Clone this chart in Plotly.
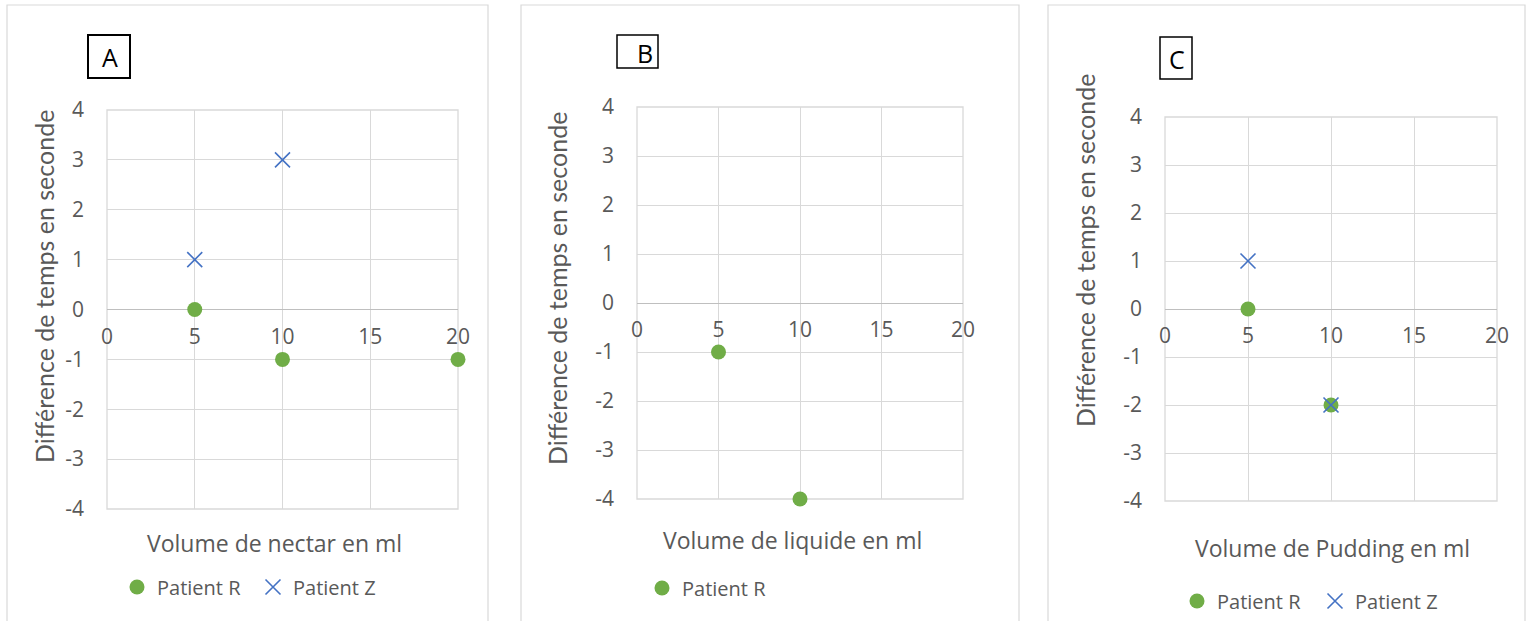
import plotly.graph_objects as go

W, H = 1527, 621

# ---- data ----
x_ticks = [0, 5, 10, 15, 20]
x_tick_labels = ["0", "5", "10", "15", "20"]
y_ticks = [-4, -3, -2, -1, 0, 1, 2, 3, 4]
y_tick_labels = ["-4", "-3", "-2", "-1", "0", "1", "2", "3", "4"]

nectar_vol_R = [5, 10, 20]
nectar_R = [0, -1, -1]
nectar_vol_Z = [5, 10]
nectar_Z = [1, 3]

liquide_vol_R = [5, 10]
liquide_R = [-1, -4]

pudding_vol_R = [5, 10]
pudding_R = [0, -2]
pudding_vol_Z = [5, 10]
pudding_Z = [1, -2]

panel_letters = ["A", "B", "C"]
x_titles = ["Volume de nectar en ml", "Volume de liquide en ml", "Volume de Pudding en ml"]
y_title = "Différence de temps en seconde"

GREEN = "#70ad47"
BLUE = "#4472c4"
GRID = "#d9d9d9"
TXT = "#595959"
FONT = "Open Sans"


def px(x):
    return x / W


def py(y):
    return 1 - y / H


# plot-area pixel boxes (left, right, top, bottom)
areas = [(107, 458, 110, 509), (637, 963, 107, 499), (1165, 1497, 117, 501)]

fig = go.Figure()


def R_trace(x, y, i, legend):
    s = "" if i == 1 else str(i)
    return go.Scatter(x=x, y=y, mode="markers", name="Patient R",
                      xaxis="x" + s, yaxis="y" + s,
                      marker=dict(symbol="circle", size=15, color=GREEN),
                      cliponaxis=False, showlegend=True, legend=legend)


def Z_trace(x, y, i, legend):
    s = "" if i == 1 else str(i)
    return go.Scatter(x=x, y=y, mode="markers", name="Patient Z",
                      xaxis="x" + s, yaxis="y" + s,
                      marker=dict(symbol="x-thin", size=15, color=BLUE,
                                  line=dict(color=BLUE, width=1.6)),
                      cliponaxis=False, showlegend=True, legend=legend)


fig.add_trace(R_trace(nectar_vol_R, nectar_R, 1, "legend"))
fig.add_trace(Z_trace(nectar_vol_Z, nectar_Z, 1, "legend"))
fig.add_trace(R_trace(liquide_vol_R, liquide_R, 2, "legend2"))
fig.add_trace(R_trace(pudding_vol_R, pudding_R, 3, "legend3"))
fig.add_trace(Z_trace(pudding_vol_Z, pudding_Z, 3, "legend3"))

layout = dict(
    width=W, height=H, margin=dict(l=0, r=0, t=0, b=0, autoexpand=False),
    paper_bgcolor="white", plot_bgcolor="white",
    font=dict(family=FONT, color=TXT, size=20),
)

shapes = []
annotations = []

for k, (l, r, t, b) in enumerate(areas):
    i = k + 1
    sfx = "" if i == 1 else str(i)
    ydom = [py(b), py(t)]
    xpos = (ydom[0] + ydom[1]) / 2
    layout[f"xaxis{sfx}"] = dict(
        domain=[px(l), px(r)], range=[0, 20], tickvals=x_ticks, ticktext=x_tick_labels,
        anchor="free", position=xpos, showgrid=True, gridcolor=GRID, gridwidth=1,
        zeroline=False, showline=False, ticks="",
        ticklabelstandoff=12,
        tickfont=dict(family=FONT, size=21, color=TXT), fixedrange=True,
    )
    layout[f"yaxis{sfx}"] = dict(
        domain=ydom, range=[-4, 4], tickvals=y_ticks, ticktext=y_tick_labels,
        anchor=f"x{sfx}",
        showgrid=True, gridcolor=GRID, gridwidth=1,
        zeroline=True, zerolinecolor="#bfbfbf", zerolinewidth=1.3,
        showline=False, ticks="", ticklabelstandoff=22,
        tickfont=dict(family=FONT, size=21, color=TXT), fixedrange=True,
    )
    # frame of the plot area (outer gridlines)
    shapes.append(dict(type="rect", xref=f"x{sfx} domain", yref=f"y{sfx} domain",
                       x0=0, x1=1, y0=0, y1=1, line=dict(color=GRID, width=1.3),
                       fillcolor="rgba(0,0,0,0)", layer="below"))

# legends
leg_common = dict(orientation="h", font=dict(family=FONT, size=20, color=TXT),
                  bgcolor="rgba(0,0,0,0)", yanchor="middle", xanchor="left",
                  itemwidth=30, tracegroupgap=0, entrywidthmode="pixels")
layout["legend"] = dict(leg_common, x=px(117), y=py(587), entrywidth=91)
layout["legend2"] = dict(leg_common, x=px(642), y=py(588))
layout["legend3"] = dict(leg_common, x=px(1177), y=py(601), entrywidth=93)

# panel borders
for (x0, x1) in [(7, 488), (521, 1019), (1048, 1525)]:
    shapes.append(dict(type="rect", xref="paper", yref="paper",
                       x0=px(x0), x1=px(x1), y0=py(640), y1=py(5),
                       line=dict(color=GRID, width=1.2), fillcolor="rgba(0,0,0,0)", layer="below"))

# letter boxes
boxes = [(88, 130, 35, 78, 2), (617, 658, 35, 68, 1.5), (1160, 1192, 37, 79, 1.5)]
letter_pos = [(110, 57), (645, 53), (1177, 59)]
for (x0, x1, y0, y1, w), (lx, ly), letter in zip(boxes, letter_pos, panel_letters):
    shapes.append(dict(type="rect", xref="paper", yref="paper",
                       x0=px(x0), x1=px(x1), y0=py(y1), y1=py(y0),
                       line=dict(color="black", width=w), fillcolor="white"))
    annotations.append(dict(text=letter, xref="paper", yref="paper", x=px(lx), y=py(ly),
                            showarrow=False, xanchor="center", yanchor="middle",
                            font=dict(family=FONT, size=25, color="black")))

# axis titles
xt_pos = [(274, 543), (792, 540), (1332, 548)]
yt_pos = [(44, 287), (557, 289), (1085, 251)]
for t, (x, y) in zip(x_titles, xt_pos):
    annotations.append(dict(text=t, xref="paper", yref="paper", x=px(x), y=py(y),
                            showarrow=False, xanchor="center", yanchor="middle",
                            font=dict(family=FONT, size=23, color=TXT)))
for (x, y) in yt_pos:
    annotations.append(dict(text=y_title, xref="paper", yref="paper", x=px(x), y=py(y),
                            showarrow=False, xanchor="center", yanchor="middle", textangle=-90,
                            font=dict(family="Lato", size=25, color=TXT)))

layout["shapes"] = shapes
layout["annotations"] = annotations
fig.update_layout(**layout)

fig.write_html("out.html", config={"displayModeBar": False},
               post_script="document.body.style.margin='0px';document.body.style.overflow='hidden';")
